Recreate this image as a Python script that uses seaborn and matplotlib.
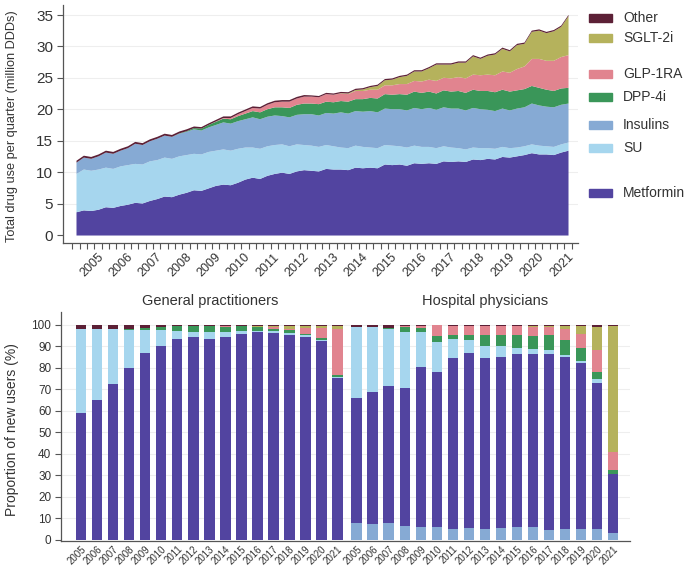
import numpy as np
import pandas as pd
import matplotlib
matplotlib.use("Agg")
import matplotlib.pyplot as plt
from matplotlib.patches import Rectangle
import seaborn as sns

# ---------------- data: top panel (quarterly, 2005Q1 .. 2021Q4, million DDDs) ----------------
years = [2005, 2006, 2007, 2008, 2009, 2010, 2011, 2012, 2013,
         2014, 2015, 2016, 2017, 2018, 2019, 2020, 2021]
year_labels = [str(y) for y in years]

metformin_q = [3.7, 4.0, 3.9, 4.1, 4.5, 4.4, 4.7, 4.9, 5.2, 5.1, 5.5, 5.8,
               6.2, 6.1, 6.5, 6.8, 7.2, 7.1, 7.5, 7.9, 8.1, 8.0, 8.4, 8.9,
               9.2, 9.0, 9.5, 9.8, 10.0, 9.8, 10.2, 10.4, 10.3, 10.2, 10.6, 10.5,
               10.5, 10.4, 10.8, 10.7, 10.8, 10.7, 11.3, 11.2, 11.3, 11.1, 11.5, 11.4,
               11.5, 11.4, 11.8, 11.7, 11.8, 11.7, 12.1, 12.0, 12.2, 12.1, 12.5, 12.4,
               12.6, 12.8, 13.1, 12.9, 12.9, 12.8, 13.2, 13.5]
su_q = [6.1, 6.5, 6.4, 6.4, 6.3, 6.2, 6.3, 6.3, 6.2, 6.2, 6.3, 6.2,
        6.2, 6.1, 6.1, 6.0, 5.8, 5.8, 5.8, 5.6, 5.6, 5.5, 5.4, 5.1,
        4.8, 4.8, 4.7, 4.6, 4.5, 4.4, 4.3, 4.0, 4.0, 3.9, 3.8, 3.7,
        3.5, 3.5, 3.5, 3.4, 3.2, 3.2, 3.1, 3.1, 2.9, 2.9, 2.8, 2.7,
        2.6, 2.5, 2.4, 2.3, 2.1, 2.0, 1.9, 1.9, 1.7, 1.7, 1.6, 1.5,
        1.4, 1.4, 1.4, 1.4, 1.3, 1.3, 1.3, 1.3]
insulins_q = [1.8, 1.9, 1.9, 2.1, 2.4, 2.4, 2.5, 2.7, 3.2, 3.1, 3.2, 3.4,
              3.5, 3.5, 3.6, 3.7, 3.9, 3.8, 3.9, 4.1, 4.3, 4.3, 4.4, 4.5,
              4.8, 4.7, 4.7, 4.7, 4.5, 4.6, 4.7, 4.9, 5.0, 5.0, 5.1, 5.2,
              5.6, 5.5, 5.5, 5.6, 5.8, 5.7, 5.8, 5.8, 5.9, 5.9, 6.0, 6.0,
              6.2, 6.1, 6.2, 6.2, 6.3, 6.2, 6.3, 6.2, 6.1, 6.0, 6.1, 6.0,
              6.2, 6.2, 6.5, 6.4, 6.3, 6.3, 6.3, 6.2]
dpp4i_q = [0, 0, 0, 0, 0, 0, 0, 0, 0, 0, 0, 0,
           0, 0, 0.05, 0.1, 0.2, 0.3, 0.4, 0.5, 0.6, 0.7, 0.8, 0.9,
           1.0, 1.1, 1.2, 1.3, 1.4, 1.5, 1.6, 1.7, 1.7, 1.8, 1.8, 1.8,
           1.8, 1.9, 1.9, 2.0, 2.1, 2.2, 2.3, 2.3, 2.4, 2.5, 2.6, 2.6,
           2.6, 2.6, 2.7, 2.7, 2.8, 2.8, 2.9, 2.9, 3.0, 3.0, 3.0, 3.0,
           2.9, 2.9, 2.8, 2.8, 2.7, 2.6, 2.6, 2.5]
glp1ra_q = [0, 0, 0, 0, 0, 0, 0, 0, 0, 0, 0, 0,
            0, 0, 0, 0, 0, 0, 0, 0.05, 0.1, 0.2, 0.3, 0.4,
            0.5, 0.6, 0.7, 0.8, 0.9, 1.0, 1.0, 1.1, 1.1, 1.1, 1.2, 1.2,
            1.2, 1.2, 1.3, 1.3, 1.3, 1.4, 1.4, 1.5, 1.6, 1.7, 1.7, 1.8,
            1.9, 2.0, 2.0, 2.1, 2.2, 2.3, 2.4, 2.5, 2.6, 2.7, 2.9, 3.0,
            3.4, 3.6, 4.3, 4.6, 4.6, 4.8, 5.0, 5.2]
sglt2i_q = [0, 0, 0, 0, 0, 0, 0, 0, 0, 0, 0, 0,
            0, 0, 0, 0, 0, 0, 0, 0, 0, 0, 0, 0,
            0, 0, 0, 0, 0, 0, 0, 0, 0, 0, 0, 0,
            0.05, 0.1, 0.15, 0.25, 0.4, 0.6, 0.8, 0.9, 1.1, 1.3, 1.5, 1.6,
            1.8, 2.6, 2.1, 2.2, 2.3, 2.5, 2.9, 2.6, 3.0, 3.3, 3.6, 3.4,
            3.8, 3.6, 4.3, 4.5, 4.4, 4.7, 4.8, 6.2]
other_q = [0.3, 0.3, 0.3, 0.3, 0.3, 0.3, 0.3, 0.3, 0.3, 0.3, 0.3, 0.3,
           0.3, 0.3, 0.3, 0.3, 0.25, 0.25, 0.25, 0.25, 0.25, 0.25, 0.25, 0.25,
           0.25, 0.25, 0.25, 0.25, 0.25, 0.25, 0.25, 0.25, 0.2, 0.2, 0.2, 0.2,
           0.2, 0.2, 0.2, 0.2, 0.2, 0.2, 0.2, 0.2, 0.2, 0.2, 0.2, 0.2,
           0.2, 0.2, 0.2, 0.2, 0.2, 0.2, 0.2, 0.2, 0.2, 0.2, 0.2, 0.2,
           0.2, 0.2, 0.2, 0.2, 0.2, 0.2, 0.2, 0.2]

# ---------------- data: bottom panel (% of new users per year) ----------------
gp_insulins = [0, 0, 0, 0, 0, 0, 0, 0, 0, 0, 0, 0, 0, 0, 0, 0, 0]
gp_metformin = [59, 65, 72.5, 80, 87, 90, 93.5, 94.5, 93.5, 94.5, 96, 96.5, 96.2, 95.5, 94.5, 92.5, 75.2]
gp_su = [39.3, 33.3, 25.5, 17.8, 10.8, 7.4, 3.8, 2.0, 3.0, 2.3, 1.0, 0.8, 0.8, 0.8, 0.6, 0.6, 0.5]
gp_dpp4i = [0, 0, 0, 0.5, 0.8, 1.5, 2.0, 3.1, 2.9, 2.3, 2.3, 1.5, 1.3, 1.2, 0.9, 0.8, 0.8]
gp_glp1ra = [0, 0, 0, 0, 0, 0.1, 0.1, 0.1, 0.1, 0.2, 0.2, 0.3, 0.5, 0.8, 2.5, 4.5, 21.5]
gp_sglt2i = [0, 0, 0, 0, 0, 0, 0, 0, 0, 0.2, 0.2, 0.5, 0.8, 1.3, 1.2, 1.2, 1.6]
gp_other = [1.7, 1.7, 2.0, 1.7, 1.4, 1.0, 0.6, 0.3, 0.5, 0.5, 0.3, 0.4, 0.4, 0.4, 0.3, 0.4, 0.4]

hp_insulins = [8, 7.5, 7.8, 6.5, 6.2, 5.8, 5.2, 5.5, 5.0, 5.5, 6.0, 6.0, 4.8, 5.0, 5.0, 5.2, 3.0]
hp_metformin = [58, 61.5, 63.7, 64, 74.4, 72.5, 79.3, 81.3, 79.8, 79.8, 80.4, 80.5, 81.6, 80, 77.5, 68, 27.5]
hp_su = [32.8, 29.8, 26.5, 26.1, 16.0, 13.9, 8.8, 6.2, 5.2, 4.7, 2.7, 2.2, 2.0, 1.0, 0.9, 1.5, 0.3]
hp_dpp4i = [0, 0, 0.5, 2.2, 2.0, 2.8, 2.0, 2.3, 5.3, 5.3, 6.2, 6.3, 6.9, 7.0, 5.7, 3.6, 1.8]
hp_glp1ra = [0, 0, 0, 0.5, 0.7, 4.8, 4.4, 4.4, 4.2, 4.0, 4.0, 4.0, 3.7, 5.0, 6.7, 10.1, 8.4]
hp_sglt2i = [0, 0, 0, 0, 0, 0, 0, 0, 0, 0.2, 0.2, 0.5, 0.5, 1.3, 3.7, 10.4, 58.5]
hp_other = [1.2, 1.2, 1.5, 0.7, 0.7, 0.2, 0.3, 0.3, 0.5, 0.5, 0.5, 0.5, 0.5, 0.7, 0.5, 1.2, 0.5]

drugs_top_to_bottom = ["Other", "SGLT-2i", "GLP-1RA", "DPP-4i", "Insulins", "SU", "Metformin"]
colors = {
    "Metformin": "#5244a0",
    "SU": "#a6d6ee",
    "Insulins": "#86aad4",
    "DPP-4i": "#3a9659",
    "GLP-1RA": "#e1848f",
    "SGLT-2i": "#b5b25c",
    "Other": "#5c2036",
}

# ---------------- long-form tables ----------------
top_series = {"Metformin": metformin_q, "SU": su_q, "Insulins": insulins_q,
              "DPP-4i": dpp4i_q, "GLP-1RA": glp1ra_q, "SGLT-2i": sglt2i_q,
              "Other": other_q}
rows = []
for drug, vals in top_series.items():
    for i, v in enumerate(vals):
        rows.append({"q": i, "drug": drug, "ddd": v})
top_df = pd.DataFrame(rows)

gp = {"Insulins": gp_insulins, "Metformin": gp_metformin, "SU": gp_su,
      "DPP-4i": gp_dpp4i, "GLP-1RA": gp_glp1ra, "SGLT-2i": gp_sglt2i, "Other": gp_other}
hp = {"Insulins": hp_insulins, "Metformin": hp_metformin, "SU": hp_su,
      "DPP-4i": hp_dpp4i, "GLP-1RA": hp_glp1ra, "SGLT-2i": hp_sglt2i, "Other": hp_other}
gp_pos = [float(i) for i in range(len(years))]
hp_pos = [17.2 + i for i in range(len(years))]
rows = []
for drug in gp:
    for p, v in zip(gp_pos, gp[drug]):
        rows.append({"pos": p, "drug": drug, "pct": v})
    for p, v in zip(hp_pos, hp[drug]):
        rows.append({"pos": p, "drug": drug, "pct": v})
bot_df = pd.DataFrame(rows)
edges = sorted(set([p - 0.5 for p in gp_pos + hp_pos] + [p + 0.5 for p in gp_pos + hp_pos]))

# ---------------- style ----------------
sns.set_theme(style="white")
plt.rcParams["font.family"] = ["Liberation Sans", "DejaVu Sans"]
txt = "#333333"
spine_c = "#555555"
grid_c = "#eeeeee"

W, H = 685, 567
fig = plt.figure(figsize=(W / 100, H / 100), dpi=100)

# ---------------- top panel ----------------
ax1 = fig.add_axes([63 / W, 1 - 243 / H, 515 / W, 238 / H])
sns.histplot(data=top_df, x="q", weights="ddd", hue="drug",
             hue_order=drugs_top_to_bottom, multiple="stack", element="poly",
             discrete=True, palette=colors, alpha=1, linewidth=0,
             legend=False, ax=ax1)
ax1.set_xlim(-1.77, 68.36)
ax1.set_ylim(-1.27, 36.6)
ax1.set_yticks([0, 5, 10, 15, 20, 25, 30, 35])
ax1.set_yticklabels(["0", "5", "10", "15", "20", "25", "30", "35"], fontsize=11, color=txt)
for yv in [5, 10, 15, 20, 25, 30, 35]:
    ax1.axhline(yv, color=grid_c, lw=0.8, zorder=0)
label_pos = [(y - years[0]) * 4 + 2.9 for y in years]
ax1.set_xticks(label_pos)
ax1.set_xticklabels(year_labels, rotation=45, ha="right", rotation_mode="anchor",
                    fontsize=9, color=txt)
ax1.set_xticks(np.arange(-0.5, 68, 1.0), minor=True)
ax1.tick_params(axis="x", which="major", length=0, pad=6)
ax1.tick_params(axis="x", which="minor", length=4, width=0.8, color=spine_c, direction="out", bottom=True)
ax1.tick_params(axis="y", which="major", length=4, width=0.8, color=spine_c, direction="out", left=True, pad=3)
ax1.set_xlabel("")
ax1.set_ylabel("Total drug use per quarter (million DDDs)", fontsize=9.2, color=txt)
ax1.yaxis.set_label_coords(-0.088, 0.49)
for s in ["top", "right"]:
    ax1.spines[s].set_visible(False)
for s in ["left", "bottom"]:
    ax1.spines[s].set_color(spine_c)
    ax1.spines[s].set_linewidth(0.9)

# legend (manual, to keep the uneven spacing of the original)
legend_y = {"Other": 18, "SGLT-2i": 38, "GLP-1RA": 74, "DPP-4i": 97,
            "Insulins": 125, "SU": 148, "Metformin": 193}
for name, yy in legend_y.items():
    fig.patches.append(Rectangle((589 / W, 1 - (yy + 4) / H), 23 / W, 8 / H,
                                 transform=fig.transFigure, color=colors[name]))
    fig.text(623 / W, 1 - yy / H, name, fontsize=10, color=txt, va="center", ha="left")

# ---------------- bottom panel ----------------
ax2 = fig.add_axes([61 / W, 1 - 541 / H, 569 / W, 229 / H])
sns.histplot(data=bot_df, x="pos", weights="pct", hue="drug",
             hue_order=["Other", "SGLT-2i", "GLP-1RA", "DPP-4i", "SU", "Metformin", "Insulins"],
             multiple="stack", bins=edges, shrink=0.66, element="bars",
             palette=colors, alpha=1, linewidth=0, legend=False, ax=ax2)
ax2.set_xlim(-1.25, 34.25)
ax2.set_ylim(-0.5, 106)
ax2.set_yticks(list(range(0, 101, 10)))
ax2.set_yticklabels([str(v) for v in range(0, 101, 10)], fontsize=8.5, color=txt)
for yv in range(10, 101, 10):
    ax2.axhline(yv, color=grid_c, lw=0.8, zorder=0)
ax2.set_xticks(gp_pos + hp_pos)
ax2.set_xticklabels(year_labels + year_labels, rotation=45, ha="right",
                    rotation_mode="anchor", fontsize=7, color=txt)
ax2.tick_params(axis="x", which="major", length=0, pad=2)
ax2.tick_params(axis="y", which="major", length=4, width=0.8, color=spine_c, direction="out", left=True, pad=3)
ax2.set_xlabel("")
ax2.set_ylabel("Proportion of new users (%)", fontsize=10, color=txt)
ax2.yaxis.set_label_coords(-0.074, 0.485)
for s in ["top", "right"]:
    ax2.spines[s].set_visible(False)
for s in ["left", "bottom"]:
    ax2.spines[s].set_color(spine_c)
    ax2.spines[s].set_linewidth(0.9)

fig.text(210 / W, 1 - 301 / H, "General practitioners", fontsize=10.5, color=txt, ha="center", va="center")
fig.text(485 / W, 1 - 301 / H, "Hospital physicians", fontsize=10.5, color=txt, ha="center", va="center")

fig.savefig("out.png", dpi=100, facecolor="white")
